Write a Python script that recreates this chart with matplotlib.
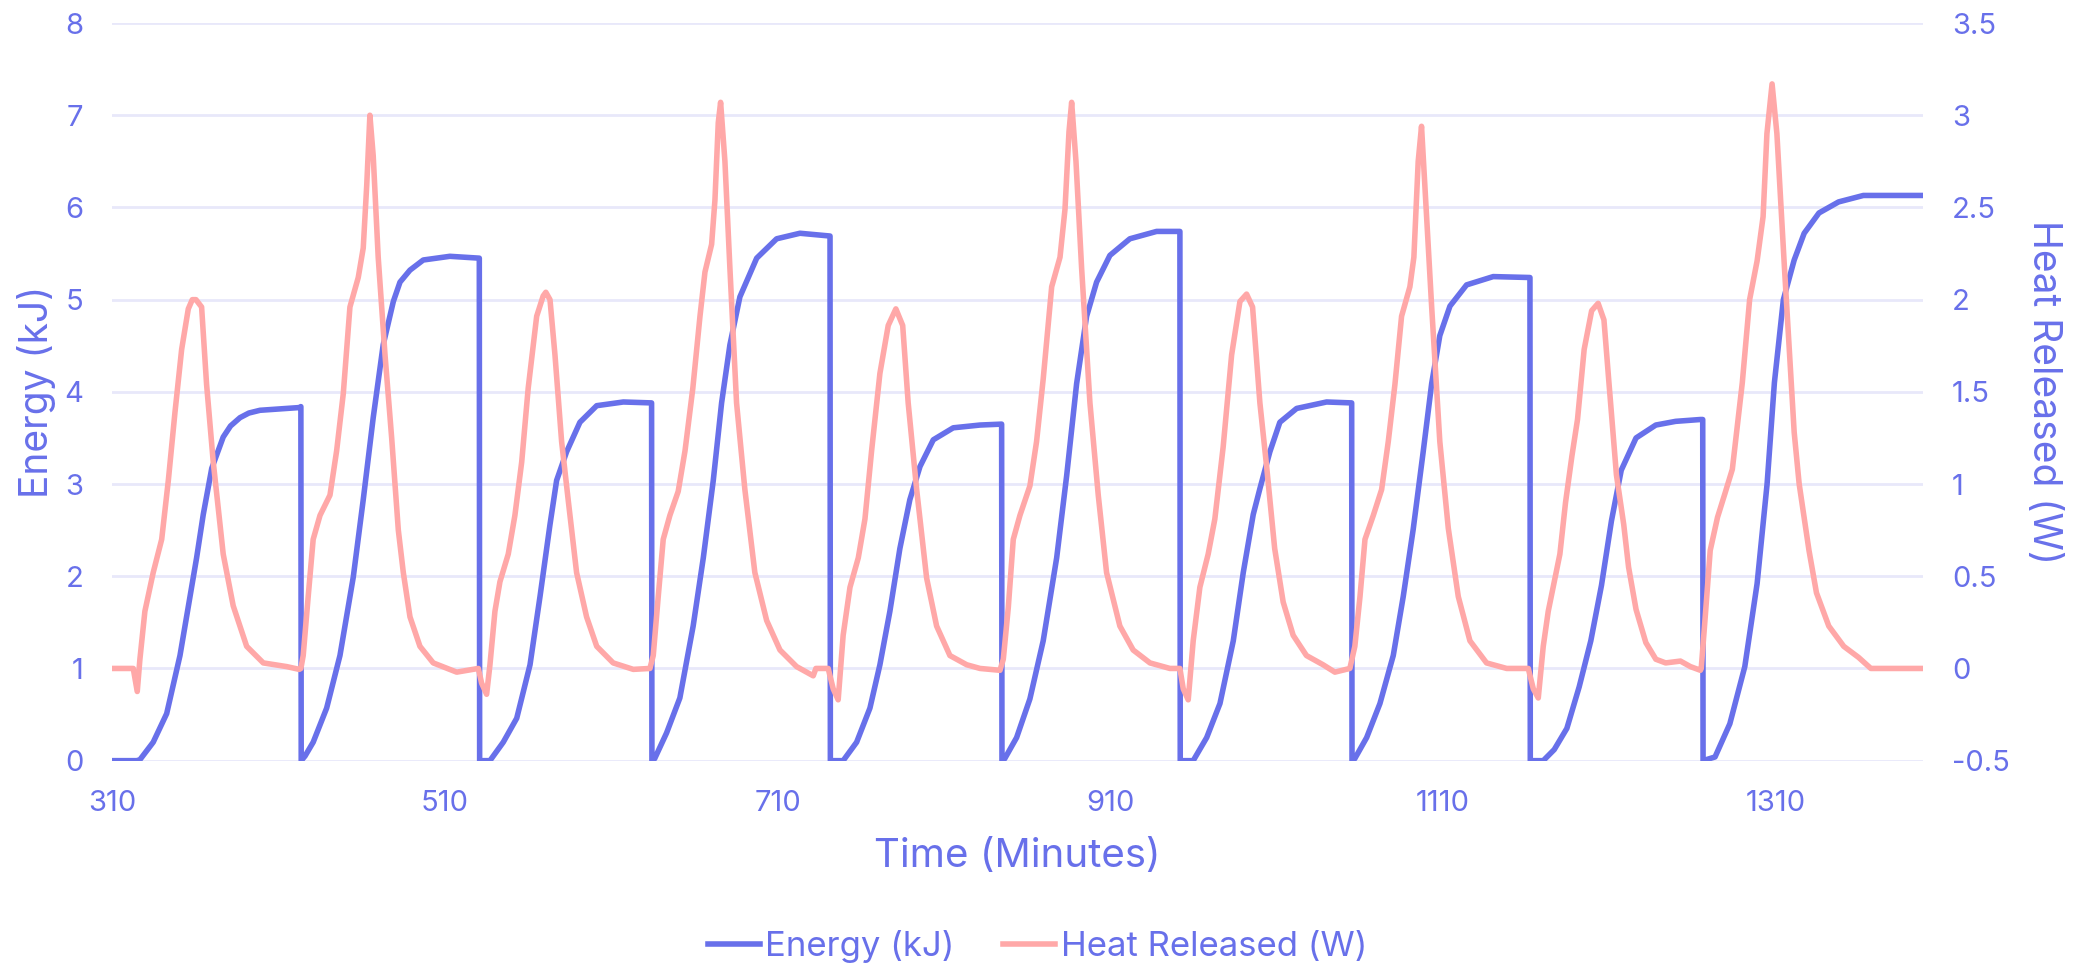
import matplotlib
matplotlib.use("Agg")
import matplotlib.pyplot as plt
from matplotlib.ticker import FuncFormatter

BLUE = "#6870EA"
PINK = "#FFA8A8"
GRID = "#E8E8FA"

# Energy (kJ) vs time (minutes), left axis
energy_t = [
    310, 324.6, 326.5, 334.5, 342.6, 350.6, 356.6, 360.6, 364.6, 369.7, 376.6, 381, 386.7, 392, 398.7, 422.7, 423.3,
    423.5, 425.8, 430.7, 438.8, 446.8, 454.8, 460.8, 466.8, 472.8, 478.9, 482.9, 488.9, 496.9, 512.9, 530.6,
    530.8, 537, 545, 553.1, 561.1, 567.1, 573.1, 577.1, 583.1, 591.1, 601.2, 617.2, 634.2,
    634.4, 636, 643.2, 651.2, 659.2, 665.3, 671.3, 676.3, 681.3, 687.3, 697.4, 709.4, 723.4, 741.5,
    741.7, 749.4, 757.5, 765.5, 771.5, 777.5, 783.5, 789.5, 795.6, 803.6, 815.6, 831.7, 844.7,
    844.9, 846.5, 853.7, 861.7, 869.7, 877.8, 883.8, 889.8, 895.8, 901.8, 909.8, 921.8, 937.9, 951.9,
    952.1, 959.9, 968, 976, 984, 990, 996, 1000, 1006, 1012, 1022.1, 1040.1, 1055.2,
    1055.4, 1057, 1064.2, 1072.2, 1080.2, 1086.2, 1092.2, 1098.2, 1103.3, 1108.2, 1114.3, 1124.3, 1140.3, 1162.4,
    1162.6, 1170.4, 1177, 1184.6, 1192, 1199, 1205.4, 1211.4, 1217.3, 1226.2, 1238.1, 1250, 1264.9, 1266.3,
    1266.5, 1273.7, 1282.6, 1291.6, 1299, 1305, 1309.4, 1314.8, 1321.3, 1327.3, 1336.2, 1348, 1362.9, 1398.7,
]
energy_kj = [
    0, 0, 0.01, 0.2, 0.51, 1.14, 1.78, 2.2, 2.67, 3.17, 3.51, 3.63, 3.72, 3.77, 3.80, 3.83, 3.84,
    0, 0.05, 0.2, 0.57, 1.14, 1.99, 2.83, 3.72, 4.51, 4.98, 5.19, 5.32, 5.43, 5.47, 5.45,
    0, 0, 0.2, 0.46, 1.04, 1.78, 2.56, 3.04, 3.35, 3.67, 3.85, 3.89, 3.88,
    0, 0.02, 0.3, 0.68, 1.46, 2.2, 3.04, 3.88, 4.51, 5.03, 5.45, 5.66, 5.72, 5.69,
    0, 0, 0.2, 0.57, 1.04, 1.62, 2.3, 2.83, 3.19, 3.48, 3.61, 3.64, 3.65,
    0, 0.02, 0.25, 0.67, 1.3, 2.2, 3.09, 4.09, 4.82, 5.19, 5.48, 5.66, 5.74, 5.74,
    0, 0, 0.25, 0.62, 1.3, 2.04, 2.67, 2.95, 3.35, 3.67, 3.82, 3.89, 3.88,
    0, 0.02, 0.25, 0.62, 1.14, 1.78, 2.51, 3.35, 4.09, 4.61, 4.93, 5.16, 5.25, 5.24,
    0, 0, 0.12, 0.35, 0.8, 1.3, 1.9, 2.6, 3.15, 3.5, 3.64, 3.68, 3.70, 3.70,
    0, 0.04, 0.4, 1.02, 1.92, 3.0, 4.1, 5.0, 5.43, 5.72, 5.94, 6.06, 6.13, 6.13,
]

# Heat released (W) vs time (minutes), right axis
heat_t = [
    310, 322.5, 324.9, 326.5, 329.5, 334.5, 339.6, 343.6, 347.6, 351.6, 355.6, 358, 360.2, 363.6, 366.6,
    370.6, 376.6, 382.6, 390.7, 400.7, 414.8, 422.3, 423.3,
    424.7, 427.7, 430.7, 434.8, 440.8, 444.8, 448.8, 452.8, 457.8, 460.8, 462.9, 464.8, 466.8, 469.8,
    473.9, 477.9, 481.9, 484.9, 488.9, 494.9, 502.9, 517, 530,
    532, 535, 537, 540, 543, 548, 552, 556.1, 560, 565.1, 569, 570.6, 573.1, 576.1, 580.1, 584.1,
    589.1, 595.1, 601.2, 611.1, 623.2, 633.2,
    635.2, 638.2, 641.2, 645.2, 650.2, 654.3, 659, 663.3, 666.3, 670.3, 672.3, 674.3, 675.7, 678.3,
    681.3, 685.3, 690.3, 696.3, 703.4, 711.4, 721.4, 731.4, 733, 740.4,
    743.4, 746.4, 749.4, 753.5, 758.5, 762.5, 766.5, 771.5, 776.5, 781.1, 785.2, 788.5, 793.6, 799.6,
    805.6, 813.6, 823.7, 831.7, 843.7,
    845.7, 848.7, 851.7, 855.7, 861.7, 865.7, 869.7, 874.8, 879.8, 882.8, 885.2, 886.8, 889.4, 892.8,
    897.8, 902.8, 907.8, 915.8, 923.8, 933.9, 945.9, 951.9,
    953.9, 956.9, 959.9, 963.9, 968.9, 972.9, 977.9, 983, 988, 992, 995.6, 1000, 1004, 1008.9, 1014,
    1020, 1028, 1038, 1045.1, 1054.1,
    1057.1, 1060.2, 1063.2, 1068.2, 1073.2, 1077.2, 1081.2, 1085.2, 1090.2, 1092.6, 1095.2, 1097.2,
    1099.2, 1103.3, 1108.2, 1113.3, 1119.3, 1126.3, 1136.3, 1148.4, 1161.4,
    1164.4, 1167.4, 1170.4, 1173.4, 1177.5, 1180.4, 1183.8, 1187.6, 1191, 1195, 1199.5, 1203.4, 1206.9,
    1209.9, 1214.4, 1218.8, 1221.7, 1226.2, 1232.1, 1238.1, 1244, 1252.9, 1258.9, 1264.9,
    1265.4, 1267.8, 1270.8, 1275.2, 1279.7, 1284.1, 1290.1, 1294.5, 1299, 1302.6, 1304.9, 1308, 1310.9,
    1315.4, 1321.3, 1324.3, 1330.2, 1334.7, 1342.1, 1351.1, 1360, 1367.4, 1398.7,
]
heat_w = [
    0, 0, -0.125, 0.05, 0.31, 0.52, 0.70, 1.02, 1.39, 1.73, 1.95, 2.0, 2.0, 1.96, 1.54,
    1.12, 0.62, 0.34, 0.12, 0.03, 0.01, -0.005, 0,
    0.07, 0.39, 0.70, 0.83, 0.94, 1.18, 1.49, 1.96, 2.12, 2.28, 2.62, 3.0, 2.78, 2.23,
    1.70, 1.25, 0.75, 0.52, 0.28, 0.12, 0.03, -0.02, 0,
    -0.08, -0.14, 0.02, 0.31, 0.47, 0.62, 0.83, 1.12, 1.52, 1.91, 2.02, 2.04, 2.0, 1.70, 1.23, 0.91,
    0.52, 0.28, 0.12, 0.03, -0.005, 0,
    0.07, 0.39, 0.70, 0.83, 0.96, 1.18, 1.52, 1.91, 2.15, 2.3, 2.54, 2.96, 3.07, 2.75,
    2.17, 1.44, 0.97, 0.52, 0.26, 0.10, 0.01, -0.04, 0, 0,
    -0.11, -0.17, 0.18, 0.44, 0.60, 0.81, 1.18, 1.60, 1.86, 1.95, 1.86, 1.44, 0.97, 0.49,
    0.23, 0.07, 0.02, 0.0, -0.01,
    0.05, 0.33, 0.70, 0.83, 0.99, 1.23, 1.57, 2.07, 2.23, 2.49, 2.91, 3.07, 2.75, 2.17,
    1.44, 0.94, 0.52, 0.23, 0.10, 0.03, 0, 0,
    -0.11, -0.17, 0.15, 0.44, 0.62, 0.81, 1.2, 1.7, 1.99, 2.03, 1.96, 1.44, 1.1, 0.65, 0.36,
    0.18, 0.07, 0.02, -0.02, 0,
    0.12, 0.39, 0.70, 0.83, 0.97, 1.23, 1.54, 1.91, 2.07, 2.23, 2.75, 2.94,
    2.62, 1.96, 1.23, 0.76, 0.39, 0.15, 0.03, 0, 0,
    -0.11, -0.16, 0.12, 0.31, 0.49, 0.62, 0.9, 1.15, 1.35, 1.73, 1.94, 1.98, 1.89,
    1.55, 1.05, 0.78, 0.55, 0.32, 0.14, 0.05, 0.03, 0.04, 0.01, -0.01,
    0, 0.28, 0.64, 0.82, 0.95, 1.08, 1.55, 2.0, 2.21, 2.45, 2.9, 3.17, 2.9,
    2.18, 1.28, 1.0, 0.64, 0.41, 0.23, 0.12, 0.06, 0, 0,
]

x_ticks = [310, 510, 710, 910, 1110, 1310]
left_ticks = [0, 1, 2, 3, 4, 5, 6, 7, 8]
right_ticks = [-0.5, 0, 0.5, 1, 1.5, 2, 2.5, 3, 3.5]

plt.rcParams["font.family"] = ["Inter", "DejaVu Sans"]
plt.rcParams["axes.unicode_minus"] = False

fig = plt.figure(figsize=(20.75, 9.68), dpi=100)
ax = fig.add_axes([0.0542, 0.2142, 0.8725, 0.7620])
ax2 = ax.twinx()

ln1, = ax.plot(energy_t, energy_kj, color=BLUE, lw=4.0, solid_joinstyle="round",
               label="Energy (kJ)", zorder=3)
ln2, = ax2.plot(heat_t, heat_w, color=PINK, lw=4.0, solid_joinstyle="round",
                label="Heat Released (W)", zorder=3)

ax.set_xlim(310, 1398.7)
ax.set_ylim(0, 8)
ax2.set_ylim(-0.5, 3.5)
ax.set_xticks(x_ticks)
ax.set_yticks(left_ticks)
ax2.set_yticks(right_ticks)
ax2.yaxis.set_major_formatter(FuncFormatter(lambda v, p: f"{v:g}"))

ax.grid(axis="y", color=GRID, lw=2)
ax.set_axisbelow(True)
for a in (ax, ax2):
    for s in a.spines.values():
        s.set_visible(False)
    a.tick_params(length=0, labelsize=21, labelcolor=BLUE, pad=21)

ax.set_xlabel("Time (Minutes)", fontsize=29, color=BLUE)
ax.set_ylabel("Energy (kJ)", fontsize=28, color=BLUE)
ax2.set_ylabel("Heat Released (W)", fontsize=28, color=BLUE, rotation=270)
ax.xaxis.set_label_coords(0.5, -0.105)
ax.yaxis.set_label_coords(-0.031, 0.5)
ax2.yaxis.set_label_coords(1.0768, 0.5)

leg = fig.legend(handles=[ln1, ln2], loc="center", bbox_to_anchor=(0.5, 0.022),
                 ncol=2, frameon=False, fontsize=25, handlelength=1.5,
                 handletextpad=0.15, columnspacing=1.4)
for t in leg.get_texts():
    t.set_color(BLUE)

fig.savefig("out.png", dpi=100)
